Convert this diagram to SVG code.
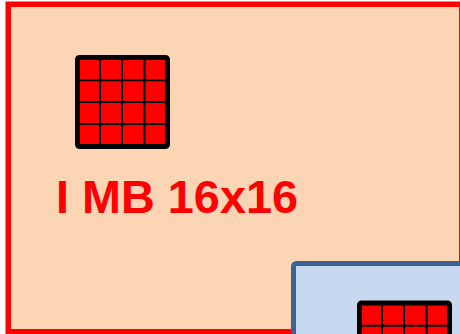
<svg xmlns="http://www.w3.org/2000/svg" width="460" height="334" viewBox="0 0 460 334">
  <style>
    .cell { fill: #FF0000; }
    .grid { fill: none; stroke: #000000; stroke-width: 2; }
    .frame { fill: none; stroke: #000000; stroke-width: 5; }
    .label { font-family: "Liberation Sans", Arial, sans-serif; font-weight: bold; font-size: 46px; fill: #FF0000; }
  </style>
  <defs>
    <g id="mb">
      <rect class="cell" x="77.5" y="57.5" width="90" height="89"/>
      <path class="grid" d="M100 58 V146 M122 58 V146 M144.5 58 V146 M78 80.2 H167 M78 102 H167 M78 124 H167"/>
      <rect class="frame" x="77.5" y="57.5" width="90" height="89" rx="2"/>
    </g>
  </defs>
  <rect width="460" height="334" fill="#FFFFFF"/>
  <g id="imb">
    <rect x="8.25" y="4.25" width="453.5" height="327.5" fill="#FCD5B5" stroke="#FF0000" stroke-width="5.5"/>
    <use href="#mb"/>
    <text class="label" x="56" y="213" textLength="242" lengthAdjust="spacingAndGlyphs">I MB 16x16</text>
  </g>
  <g id="next-mb">
    <rect x="293.5" y="263.5" width="200" height="100" rx="3" fill="#C6D9F1" stroke="#3B6494" stroke-width="5"/>
    <use href="#mb" transform="translate(282 245.5)"/>
  </g>
  <g id="connectors"/>
</svg>
